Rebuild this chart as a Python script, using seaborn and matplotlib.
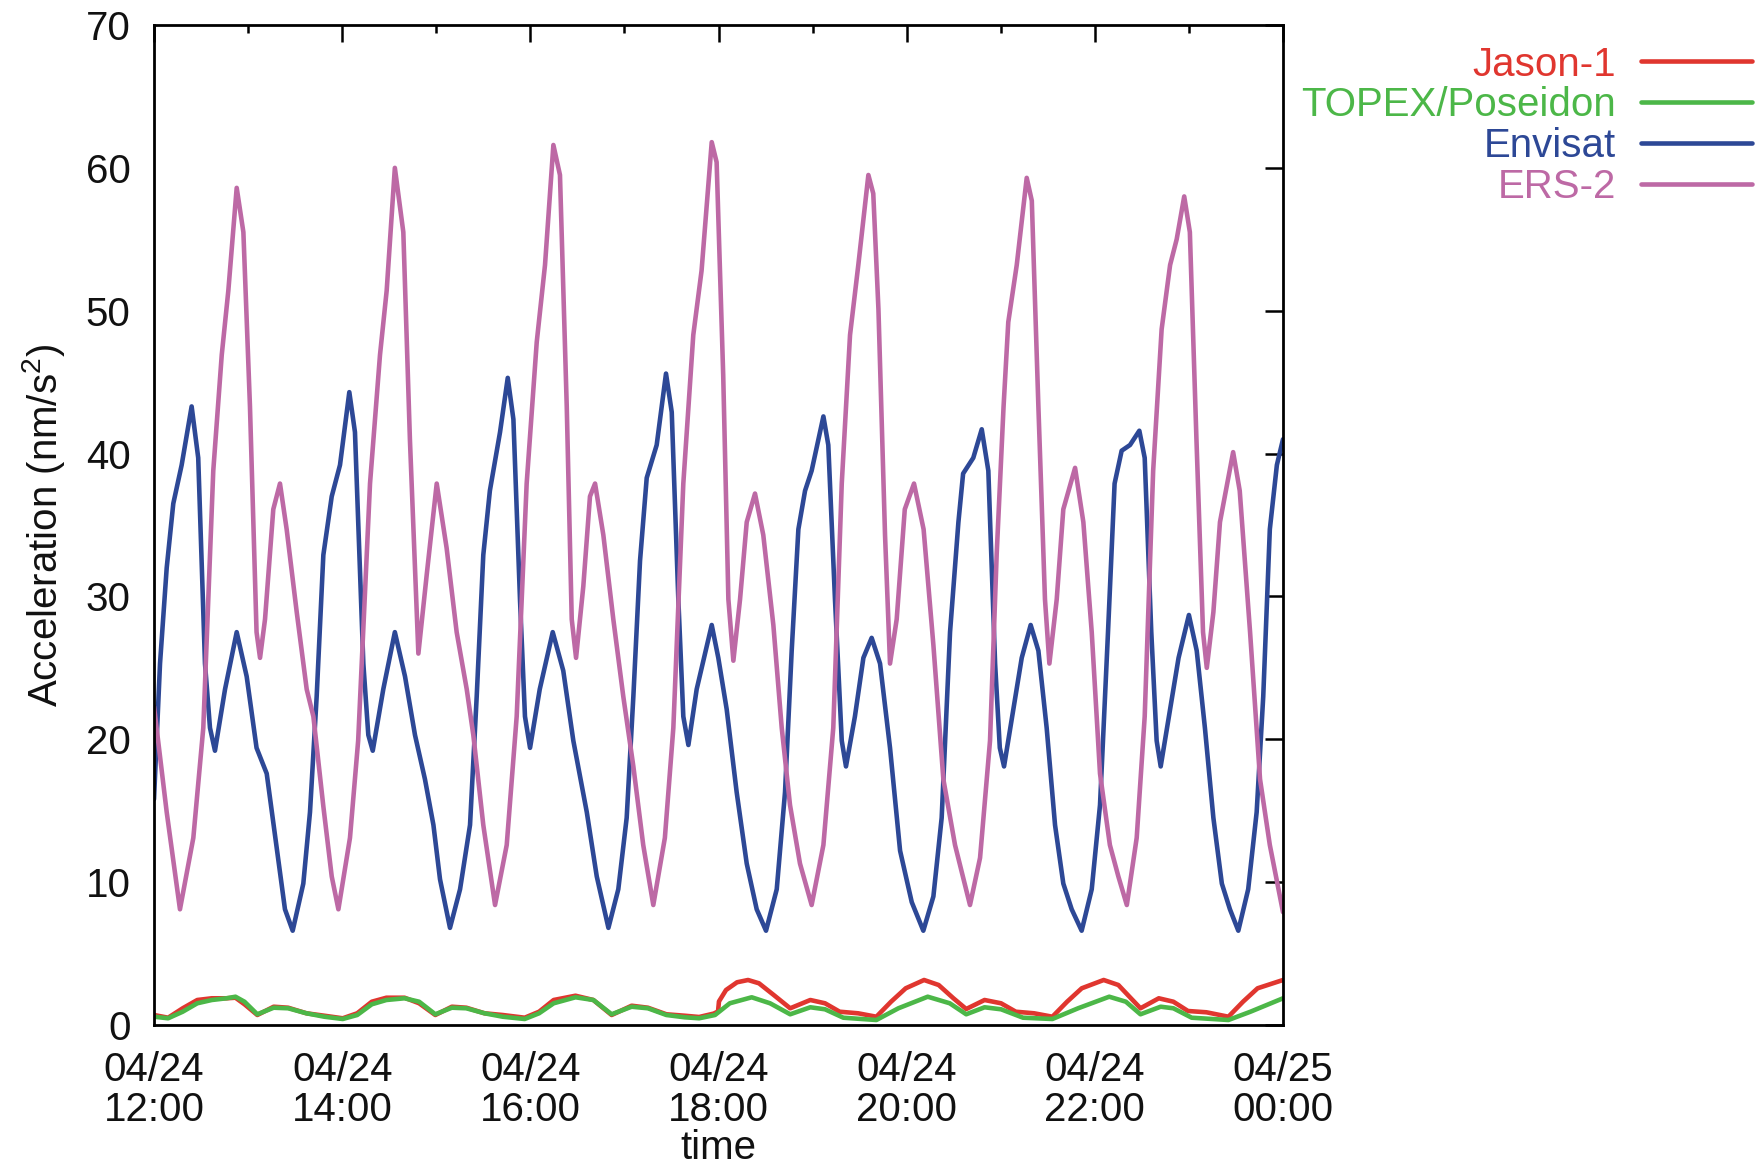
import numpy as np
import pandas as pd
import matplotlib
matplotlib.use("Agg")
import matplotlib.pyplot as plt
from matplotlib.ticker import MultipleLocator
import seaborn as sns

# Hours after 04/24 12:00 and non-gravitational acceleration (nm/s^2)
jason_t = [0.0, 0.15, 0.305, 0.46, 0.614, 0.77, 0.866, 0.962, 1.098, 1.272, 1.426, 1.62, 1.81,
           2.006, 2.16, 2.315, 2.47, 2.663, 2.818, 2.99, 3.166, 3.32, 3.513, 3.706, 3.94, 4.093,
           4.248, 4.48, 4.67, 4.864, 5.077, 5.25, 5.446, 5.64, 5.794, 5.95, 5.995, 6.005, 6.08,
           6.197, 6.314, 6.43, 6.587, 6.762, 6.976, 7.132, 7.288, 7.483, 7.678, 7.834, 7.99,
           8.185, 8.34, 8.497, 8.633, 8.828, 9.003, 9.16, 9.354, 9.549, 9.705, 9.861, 10.094,
           10.25, 10.368, 10.485, 10.68, 10.835, 10.99, 11.186, 11.42, 11.575, 11.73, 12.0]
jason_v = [0.70, 0.51, 1.17, 1.75, 1.87, 1.87, 1.91, 1.45, 0.70, 1.28, 1.21, 0.82, 0.65,
           0.47, 0.82, 1.63, 1.91, 1.91, 1.52, 0.70, 1.28, 1.21, 0.82, 0.70, 0.51, 0.93,
           1.75, 2.05, 1.75, 0.70, 1.35, 1.21, 0.75, 0.65, 0.56, 0.80, 0.95, 1.65, 2.45,
           2.99, 3.15, 2.92, 2.10, 1.17, 1.75, 1.52, 0.93, 0.82, 0.58, 1.63, 2.57,
           3.15, 2.80, 1.87, 1.12, 1.75, 1.52, 0.93, 0.82, 0.58, 1.63, 2.57, 3.15,
           2.80, 1.98, 1.17, 1.87, 1.63, 0.98, 0.89, 0.58, 1.63, 2.57, 3.15]

topex_t = [0.0, 0.15, 0.305, 0.46, 0.614, 0.77, 0.866, 0.962, 1.098, 1.272, 1.426, 1.62, 1.81,
           2.006, 2.16, 2.315, 2.47, 2.663, 2.818, 2.99, 3.166, 3.32, 3.513, 3.706, 3.94, 4.093,
           4.248, 4.48, 4.67, 4.864, 5.077, 5.25, 5.446, 5.64, 5.794, 5.963, 6.12, 6.353, 6.548,
           6.762, 6.976, 7.132, 7.327, 7.522, 7.678, 7.912, 8.224, 8.458, 8.633, 8.828, 9.003,
           9.237, 9.549, 9.822, 10.153, 10.33, 10.485, 10.70, 10.835, 11.03, 11.42, 11.654, 12.0]
topex_v = [0.58, 0.47, 0.93, 1.52, 1.75, 1.87, 1.98, 1.63, 0.75, 1.21, 1.17, 0.82, 0.58,
           0.42, 0.70, 1.45, 1.75, 1.87, 1.63, 0.75, 1.21, 1.17, 0.82, 0.58, 0.42, 0.82,
           1.52, 1.94, 1.75, 0.75, 1.28, 1.17, 0.70, 0.54, 0.47, 0.70, 1.52, 1.94, 1.52,
           0.75, 1.24, 1.10, 0.51, 0.42, 0.35, 1.17, 1.98, 1.52, 0.75, 1.24, 1.10,
           0.51, 0.42, 1.17, 1.98, 1.63, 0.75, 1.28, 1.17, 0.51, 0.35, 0.93, 1.87]

envisat_t = [0.0, 0.064, 0.135, 0.205, 0.294, 0.40, 0.47, 0.542, 0.595, 0.648, 0.755, 0.879,
             0.985, 1.09, 1.198, 1.30, 1.392, 1.474, 1.587, 1.658, 1.729, 1.80, 1.889, 1.977,
             2.076, 2.136, 2.225, 2.278, 2.325, 2.437, 2.56, 2.668, 2.774, 2.88, 2.97, 3.04,
             3.146, 3.253, 3.359, 3.43, 3.50, 3.57, 3.678, 3.76, 3.82, 3.89, 3.943, 3.997,
             4.10, 4.238, 4.35, 4.457, 4.60, 4.706, 4.83, 4.935, 5.024, 5.095, 5.166, 5.237,
             5.343, 5.442, 5.503, 5.573, 5.626, 5.68, 5.768, 5.928, 5.998, 6.087, 6.193, 6.30,
             6.406, 6.505, 6.619, 6.707, 6.778, 6.849, 6.92, 6.99, 7.115, 7.167, 7.238, 7.31,
             7.355, 7.45, 7.54, 7.628, 7.717, 7.823, 7.93, 8.054, 8.177, 8.284, 8.372, 8.461,
             8.55, 8.60, 8.708, 8.798, 8.868, 8.94, 8.99, 9.035, 9.134, 9.223, 9.318, 9.40,
             9.488, 9.577, 9.665, 9.754, 9.86, 9.967, 10.055, 10.14, 10.21, 10.285, 10.374,
             10.473, 10.53, 10.60, 10.657, 10.70, 10.80, 10.89, 11.0, 11.083, 11.17, 11.26,
             11.35, 11.436, 11.525, 11.63, 11.72, 11.79, 11.86, 11.935, 12.0]
envisat_v = [15.8, 25.3, 32.0, 36.5, 39.2, 43.3, 39.7, 25.3, 20.8, 19.2, 23.5, 27.5,
             24.4, 19.4, 17.6, 12.6, 8.1, 6.6, 9.9, 14.9, 23.0, 32.9, 37.0, 39.2,
             44.3, 41.5, 25.3, 20.3, 19.2, 23.5, 27.5, 24.4, 20.3, 17.2, 14.0, 10.2,
             6.8, 9.5, 14.0, 23.0, 32.9, 37.4, 41.5, 45.3, 42.4, 29.8, 21.6, 19.4,
             23.5, 27.5, 24.8, 19.9, 14.9, 10.4, 6.8, 9.5, 14.5, 23.0, 32.5, 38.3,
             40.6, 45.6, 42.9, 29.8, 21.6, 19.6, 23.5, 28.0, 25.7, 22.1, 16.3, 11.3,
             8.1, 6.6, 9.5, 16.3, 26.2, 34.7, 37.4, 38.8, 42.6, 40.6, 29.8, 19.9,
             18.1, 21.6, 25.7, 27.1, 25.3, 19.4, 12.2, 8.6, 6.6, 9.0, 14.5, 27.5,
             35.2, 38.6, 39.7, 41.7, 38.8, 25.3, 19.4, 18.1, 22.1, 25.7, 28.0, 26.2,
             20.8, 14.0, 9.9, 8.1, 6.6, 9.5, 15.4, 27.5, 37.9, 40.2, 40.6,
             41.6, 39.7, 27.5, 19.9, 18.1, 22.1, 25.7, 28.7, 26.2, 20.8, 14.5,
             9.9, 8.1, 6.6, 9.5, 14.9, 23.0, 34.7, 39.2, 41.0]

ers2_t = [0.0, 0.135, 0.276, 0.418, 0.524, 0.63, 0.72, 0.79, 0.879, 0.95, 1.02, 1.09, 1.127,
          1.18, 1.268, 1.339, 1.41, 1.517, 1.623, 1.694, 1.80, 1.889, 1.96, 2.083, 2.17, 2.296,
          2.402, 2.473, 2.56, 2.65, 2.72, 2.81, 2.90, 3.005, 3.11, 3.217, 3.324, 3.394, 3.50,
          3.625, 3.749, 3.855, 3.961, 4.068, 4.156, 4.245, 4.315, 4.387, 4.44, 4.486, 4.563,
          4.634, 4.688, 4.776, 4.882, 4.988, 5.095, 5.20, 5.307, 5.43, 5.52, 5.626, 5.732,
          5.82, 5.928, 5.98, 6.05, 6.105, 6.158, 6.229, 6.30, 6.388, 6.476, 6.583, 6.672,
          6.76, 6.866, 6.99, 7.115, 7.22, 7.31, 7.398, 7.486, 7.593, 7.645, 7.70, 7.77, 7.823,
          7.894, 7.98, 8.078, 8.18, 8.284, 8.39, 8.514, 8.673, 8.78, 8.886, 8.957, 9.03, 9.08,
          9.17, 9.276, 9.33, 9.40, 9.47, 9.517, 9.595, 9.665, 9.79, 9.878, 9.967, 10.055,
          10.16, 10.25, 10.34, 10.445, 10.53, 10.62, 10.71, 10.80, 10.87, 10.95, 11.01, 11.08,
          11.15, 11.19, 11.26, 11.33, 11.47, 11.54, 11.65, 11.756, 11.86, 12.0]
ers2_v = [22.3, 14.9, 8.1, 13.1, 20.8, 38.8, 46.9, 51.4, 58.6, 55.5, 43.3, 27.5, 25.7,
          28.4, 36.1, 37.9, 34.7, 28.9, 23.5, 21.6, 15.3, 10.4, 8.1, 13.1, 19.9, 37.9,
          46.9, 51.4, 60.0, 55.5, 41.0, 26.0, 31.6, 37.9, 33.4, 27.5, 23.5, 20.3, 14.0,
          8.4, 12.6, 21.6, 37.9, 47.8, 53.2, 61.6, 59.5, 43.3, 28.4, 25.7, 30.7,
          37.0, 37.9, 34.3, 28.4, 23.0, 18.1, 12.6, 8.4, 13.1, 20.8, 37.9, 48.3,
          52.8, 61.8, 60.4, 45.5, 29.8, 25.5, 29.8, 35.2, 37.2, 34.3, 28.0, 20.8,
          15.4, 11.3, 8.4, 12.6, 20.8, 37.9, 48.3, 53.2, 59.5, 58.2, 50.1, 34.3, 25.3,
          28.4, 36.1, 37.9, 34.7, 26.6, 17.2, 12.6, 8.4, 11.7, 19.9, 33.0, 43.3, 49.2,
          53.2, 59.3, 57.7, 43.3, 29.8, 25.3, 29.8, 36.1, 39.0, 35.2, 27.5, 17.6,
          12.6, 10.4, 8.4, 13.1, 21.6, 38.8, 48.7, 53.2, 55.0, 58.0, 55.5, 41.0,
          27.5, 25.0, 28.9, 35.2, 40.1, 37.4, 27.5, 17.2, 12.6, 7.9]

satellites = ["Jason-1", "TOPEX/Poseidon", "Envisat", "ERS-2"]
colors = ["#e0362f", "#4cb748", "#2d4896", "#bd69a5"]
tick_hours = [0, 2, 4, 6, 8, 10, 12]
tick_labels = ["04/24\n12:00", "04/24\n14:00", "04/24\n16:00", "04/24\n18:00",
               "04/24\n20:00", "04/24\n22:00", "04/25\n00:00"]

frames = []
for name, t, v in zip(satellites,
                      [jason_t, topex_t, envisat_t, ers2_t],
                      [jason_v, topex_v, envisat_v, ers2_v]):
    frames.append(pd.DataFrame({"hours": t, "acc": v, "satellite": name}))
df = pd.concat(frames, ignore_index=True)

sns.set_theme(style="white")
plt.rcParams["font.family"] = ["Liberation Sans", "DejaVu Sans"]
plt.rcParams["mathtext.default"] = "regular"
FS = 29

fig = plt.figure(figsize=(17.62, 11.64), dpi=100)
ax = fig.add_axes([154 / 1762, 1 - 1025 / 1164, 1129 / 1762, 1000 / 1164])

sns.lineplot(data=df, x="hours", y="acc", hue="satellite", hue_order=satellites,
             palette=dict(zip(satellites, colors)), sort=False, estimator=None,
             linewidth=3.3, legend=False, ax=ax)
for line in ax.lines:
    line.set_solid_joinstyle("round")
    line.set_solid_capstyle("round")

ax.set_xlim(0, 12)
ax.set_ylim(0, 70)
ax.set_xticks(tick_hours)
ax.set_xticklabels(tick_labels)
ax.xaxis.set_minor_locator(MultipleLocator(1))
ax.set_yticks(np.arange(0, 71, 10))

for side in ["left", "right", "top", "bottom"]:
    ax.spines[side].set_visible(True)
    ax.spines[side].set_color("black")
    ax.spines[side].set_linewidth(2.0)

ax.tick_params(axis="both", which="both", direction="in", top=True, right=True,
               color="black", width=1.8, labelsize=FS, labelcolor="#111111")
ax.tick_params(axis="y", which="major", length=13, pad=17)
ax.tick_params(axis="x", which="major", length=12, pad=19)
ax.tick_params(axis="x", which="minor", length=6)
for lab in ax.get_xticklabels():
    lab.set_linespacing(1.07)

ax.set_xlabel("time", fontsize=FS, labelpad=0, color="#111111")
ax.set_ylabel("Acceleration (nm/s$^2$)", fontsize=FS, labelpad=13, color="#111111")

ax.legend(ax.lines[:4], satellites, loc="upper right",
          bbox_to_anchor=(1752 / 1762, 1 - 45.5 / 1164), bbox_transform=fig.transFigure,
          frameon=False, markerfirst=False, labelcolor="linecolor", fontsize=FS,
          handlelength=2.75, handletextpad=0.62, labelspacing=0.07,
          borderpad=0, borderaxespad=0)

fig.savefig("out.png", dpi=100)
